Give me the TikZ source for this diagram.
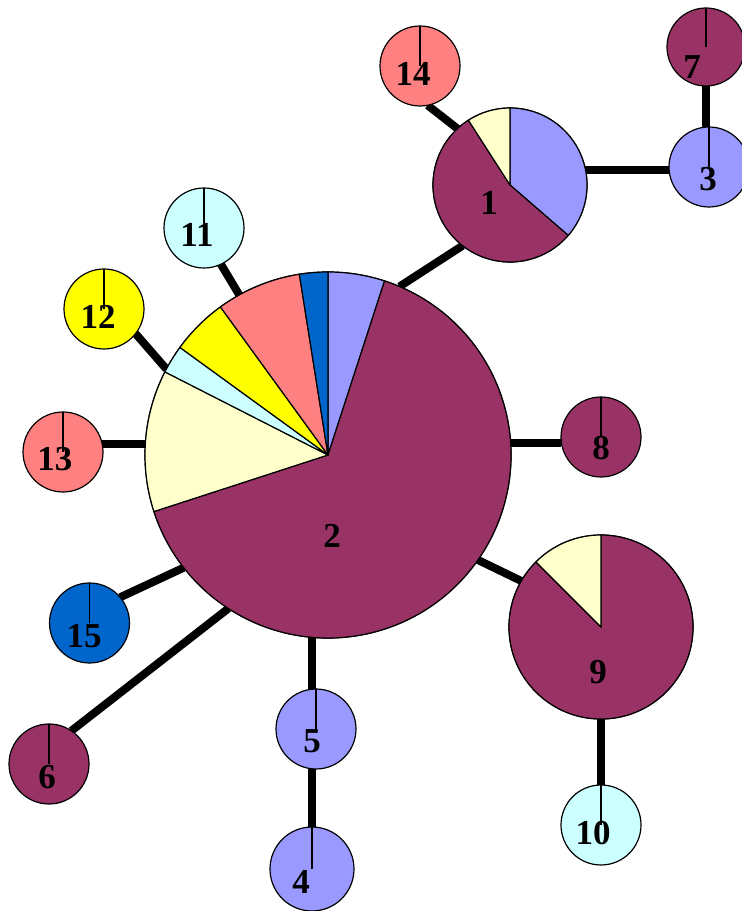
\documentclass[tikz,border=0pt]{standalone}
\usepackage{fontspec}
\setmainfont{Liberation Serif}

\definecolor{plum}{HTML}{993366}
\definecolor{lilac}{HTML}{9999FF}
\definecolor{cream}{HTML}{FFFFCC}
\definecolor{ice}{HTML}{CCFFFF}
\definecolor{lemon}{HTML}{FFFF00}
\definecolor{coral}{HTML}{FF8080}
\definecolor{ocean}{HTML}{0066CC}

\pgfdeclarelayer{links}
\pgfsetlayers{links,main}

% one wedge of a pie: colour, node, radius, start angle, end angle
\newcommand\wedgeof[5]{%
  \filldraw[wedge, fill=#1] (#2.center) -- ++(#4:#3) arc[start angle=#4, end angle=#5, radius=#3] -- cycle;}

\begin{document}
\begin{tikzpicture}[x=1pt, y=1pt,
  hap/.style={circle, draw, line width=1.2pt, inner sep=0pt, outer sep=0pt, minimum size=80pt},
  link/.style={line width=8pt},
  stem/.style={line width=1.2pt},
  wedge/.style={line width=1.2pt, line join=round},
  lbl/.style={font=\fontsize{35}{35}\selectfont\bfseries, inner sep=0pt}]
\useasboundingbox (0,0) rectangle (742,911);
\clip (0,0) rectangle (742,911);

% haplotype circles
\node[hap, minimum size=366pt] (n2) at (328,456) {};
\node[hap, minimum size=154pt] (n1) at (510,726) {};
\node[hap, minimum size=184pt] (n9) at (601,284) {};
\node[hap, fill=lilac] (n3) at (709,744) {};
\node[hap, fill=lilac, minimum size=84pt] (n4) at (312,42) {};
\node[hap, fill=lilac] (n5) at (316,182) {};
\node[hap, fill=plum] (n6) at (49,147) {};
\node[hap, fill=plum, minimum size=78pt] (n7) at (706,864) {};
\node[hap, fill=plum] (n8) at (601,474) {};
\node[hap, fill=ice] (n10) at (601,86) {};
\node[hap, fill=ice] (n11) at (204,683) {};
\node[hap, fill=lemon] (n12) at (104,602) {};
\node[hap, fill=coral] (n13) at (63,459) {};
\node[hap, fill=coral] (n14) at (420,845) {};
\node[hap, fill=ocean] (n15) at (89.5,288) {};

% pie wedges of the mixed haplotypes
\wedgeof{lilac}{n2}{183}{72}{90}
\wedgeof{plum}{n2}{183}{-162}{72}
\wedgeof{cream}{n2}{183}{153}{198}
\wedgeof{ice}{n2}{183}{144}{153}
\wedgeof{lemon}{n2}{183}{126}{144}
\wedgeof{coral}{n2}{183}{99}{126}
\wedgeof{ocean}{n2}{183}{90}{99}

\wedgeof{lilac}{n1}{77}{-40.9}{90}
\wedgeof{plum}{n1}{77}{122.7}{319.1}
\wedgeof{cream}{n1}{77}{90}{122.7}

\wedgeof{plum}{n9}{92}{135}{450}
\wedgeof{cream}{n9}{92}{90}{135}

% single-colour circles: radius from top to centre
\foreach \n in {n3,n4,n5,n6,n7,n8,n10,n11,n12,n13,n14,n15}
  \draw[stem] (\n.north) -- (\n.center);

% connectors between haplotypes
\begin{pgfonlayer}{links}
\draw[link] (n14.-79) -- (n1.133);
\draw[link] (n1.232) -- (n2.67);
\draw[link] (n3.184) -- (n3.184 -| n1.center);
\draw[link] (n7.south) -- (n7.south |- n3.center);
\draw[link] (n11.-65) -- (n2.119);
\draw[link] (n12.-38) -- (n2.152);
\draw[link] (n13.12) -- (n13.12 -| n2.center);
\draw[link] (n8.189) -- (n8.189 -| n2.center);
\draw[link] (n9.150) -- (n2.-35);
\draw[link] (n9.south) -- (n10.north);
\draw[link] (n15.40) -- (n2.218);
\draw[link] (n6.56) -- (n2.237);
\draw[link] (n5.96) -- (n5.96 |- n2.center);
\draw[link] (n4.north) -- (n4.north |- n5.center);
\end{pgfonlayer}

% haplotype numbers
\node[lbl] (l1) at (489,708) {1};
\node[lbl] (l2) at (332,375) {2};
\node[lbl] (l3) at (708,732) {3};
\node[lbl] (l4) at (301,29) {4};
\node[lbl] (l5) at (312,170) {5};
\node[lbl] (l6) at (47,134) {6};
\node[lbl] (l7) at (692,844) {7};
\node[lbl] (l8) at (601,463) {8};
\node[lbl] (l9) at (598,239) {9};
\node[lbl] (l10) at (593,78) {10};
\node[lbl] (l11) at (197,676) {11};
\node[lbl] (l12) at (98,594) {12};
\node[lbl] (l13) at (55,452) {13};
\node[lbl] (l14) at (413,837) {14};
\node[lbl] (l15) at (84,275) {15};
\end{tikzpicture}
\end{document}
